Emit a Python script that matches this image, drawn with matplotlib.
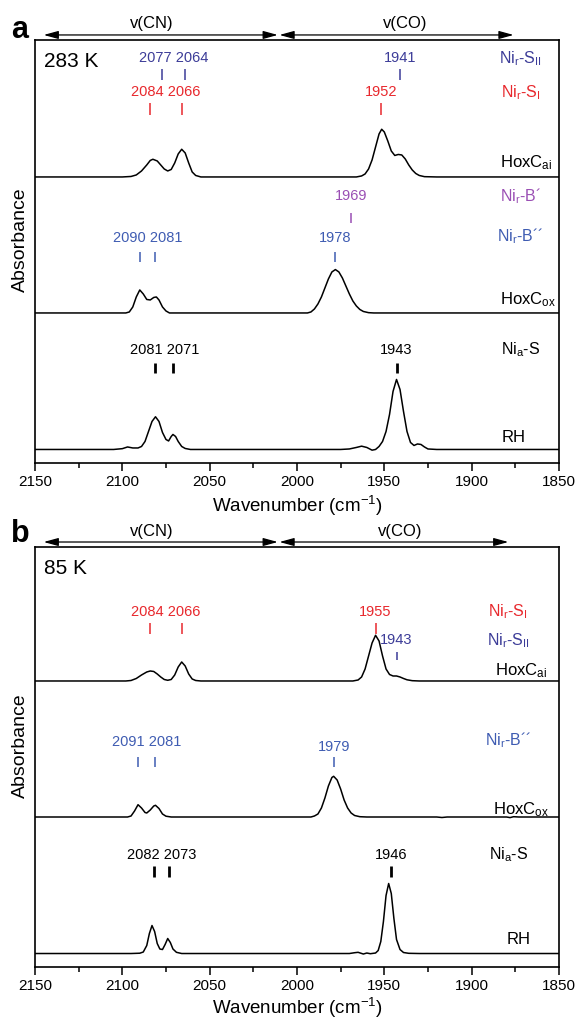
import numpy as np
import matplotlib.pyplot as plt
import matplotlib.transforms as mtransforms

plt.rcParams['font.family'] = ['Liberation Sans', 'DejaVu Sans']
plt.rcParams['mathtext.default'] = 'regular'

# ---- spectra, panel a (283 K): wavenumber / absorbance (arb. units, above each baseline)
a_cai_wn = [2150, 2100, 2095, 2092, 2089, 2086, 2084, 2082.5, 2080, 2078, 2076, 2074, 2072, 2070, 2068,
            2066, 2064, 2062, 2060, 2058, 2055, 1966, 1963, 1961, 1959, 1957, 1955, 1953, 1951.5, 1950,
            1948, 1946, 1944, 1942, 1940, 1938, 1936, 1934, 1932, 1930, 1927, 1920, 1850]
a_cai_abs = [0, 0, 0.05, 0.2, 0.6, 1.2, 1.65, 1.77, 1.6, 1.2, 0.8, 0.6, 0.75, 1.4, 2.3,
             2.77, 2.4, 1.4, 0.5, 0.15, 0, 0, 0.1, 0.3, 0.8, 1.7, 3.0, 4.3, 4.77, 4.5,
             3.6, 2.6, 2.15, 2.25, 2.2, 1.8, 1.2, 0.7, 0.35, 0.15, 0.03, 0, 0]

a_cox_wn = [2150, 2098, 2096, 2094, 2092, 2090, 2088, 2086, 2084, 2082, 2080.5, 2079, 2077, 2075, 2073,
            1994, 1992, 1990, 1988, 1986, 1984, 1982, 1980, 1978, 1976, 1974, 1972, 1970, 1968, 1966,
            1964, 1962, 1959, 1956, 1850]
a_cox_abs = [0, 0, 0.1, 0.6, 1.6, 2.3, 1.9, 1.35, 1.3, 1.55, 1.6, 1.3, 0.6, 0.2, 0,
             0, 0.1, 0.4, 0.9, 1.6, 2.5, 3.4, 4.1, 4.34, 4.1, 3.5, 2.7, 1.9, 1.2, 0.7,
             0.35, 0.15, 0.03, 0, 0]

a_rh_wn = [2150, 2105, 2100, 2097, 2094, 2091, 2089, 2087, 2085, 2083, 2081, 2079, 2077, 2075, 2073.5,
           2072, 2071, 2069.5, 2068, 2066, 2064, 2061, 1975, 1970, 1966, 1963, 1960, 1957, 1955, 1953,
           1951, 1949, 1947, 1945, 1943, 1941, 1939, 1937, 1935, 1933, 1931, 1929, 1927, 1925, 1920, 1850]
a_rh_abs = [0, 0, 0.08, 0.25, 0.15, 0.15, 0.3, 0.8, 1.8, 2.8, 3.27, 2.8, 1.7, 1.0, 0.85,
            1.3, 1.5, 1.3, 0.8, 0.3, 0.1, 0, 0, 0.05, 0.2, 0.33, 0.2, -0.07, 0, 0.3,
            0.8, 1.8, 3.5, 5.8, 7.0, 6.0, 3.8, 1.8, 0.7, 0.4, 0.55, 0.5, 0.25, 0.05, 0, 0]

# ---- spectra, panel b (85 K)
b_cai_wn = [2150, 2098, 2095, 2092, 2089, 2086, 2084, 2082, 2080, 2078, 2076, 2074, 2072, 2070, 2068,
            2066, 2064, 2062, 2060, 2058, 2055, 1968, 1965, 1963, 1961, 1959, 1957, 1955, 1953, 1951,
            1949, 1947, 1945, 1943, 1941, 1939, 1937, 1934, 1930, 1850]
b_cai_abs = [0, 0, 0.05, 0.25, 0.6, 0.9, 1.0, 0.95, 0.7, 0.4, 0.15, 0.07, 0.15, 0.6, 1.4,
             1.9, 1.5, 0.7, 0.2, 0.05, 0, 0, 0.1, 0.4, 1.2, 2.5, 3.8, 4.57, 4.0, 2.5,
             1.2, 0.65, 0.5, 0.5, 0.4, 0.25, 0.12, 0.03, 0, 0]

b_cox_wn = [2150, 2097, 2095, 2093, 2091, 2089, 2087, 2086, 2084, 2082, 2081, 2079, 2077, 2075, 2072,
            1992, 1990, 1988, 1986, 1984, 1982, 1980, 1979, 1977, 1975, 1973, 1971, 1969, 1967, 1964,
            1960, 1920, 1917, 1914, 1880, 1878, 1876, 1873, 1850]
b_cox_abs = [0, 0, 0.1, 0.6, 1.23, 0.9, 0.45, 0.4, 0.7, 1.1, 1.17, 0.85, 0.3, 0.08, 0,
             0, 0.1, 0.3, 0.9, 1.9, 3.1, 3.95, 4.07, 3.7, 2.8, 1.7, 0.9, 0.4, 0.15, 0.03,
             0, 0, -0.05, 0, 0, -0.06, 0.03, 0, 0]

b_rh_wn = [2150, 2095, 2090, 2088, 2086, 2084.5, 2083, 2081.5, 2080, 2078.5, 2077, 2075.5, 2074, 2072.5,
           2071, 2069, 2066, 1970, 1967, 1965, 1962, 1960, 1958, 1955, 1953.5, 1952, 1950.5, 1949,
           1947.5, 1946, 1944.5, 1943, 1941, 1939, 1936, 1930, 1850]
b_rh_abs = [0, 0, 0.03, 0.15, 0.8, 2.0, 2.8, 2.2, 1.0, 0.45, 0.4, 0.9, 1.5, 1.1,
            0.45, 0.12, 0, 0, 0.08, 0.12, -0.05, 0.05, -0.02, 0.05, 0.3, 1.2, 3.2, 5.8,
            7.0, 6.0, 3.5, 1.4, 0.4, 0.1, 0.02, 0, 0]

# ---- band assignments (wavenumbers)
a_si = [2084, 2066, 1952]
a_sii = [2077, 2064, 1941]
a_bp = [1969]
a_bpp = [2090, 2081, 1978]
a_nia = [2081, 2071, 1943]

b_si = [2084, 2066, 1955]
b_sii = [1943]
b_bpp = [2091, 2081, 1979]
b_nia = [2082, 2073, 1946]

RED = '#e8282d'
NAVY = '#3c3c98'
BLUE = '#3f5cb2'
PURPLE = '#9a4fb4'

fig = plt.figure(figsize=(5.82, 10.22), dpi=100)
ax_a = fig.add_axes([0.0601, 0.547, 0.9003, 0.4139])
ax_b = fig.add_axes([0.0601, 0.0538, 0.9003, 0.4110])

offsets = [1.35, 15.0, 28.6]  # RH, HoxCox, HoxCai baselines


def band_labels(ax, peaks, color, ylab, yt0, yt1, lw=1.1, dy_co=0.0):
    # vertical markers
    ax.vlines(peaks, yt1, yt0, colors=color, lw=lw)
    cn = [p for p in peaks if p > 2000]
    co = [p for p in peaks if p < 2000]
    for grp, dy in ((cn, 0.0), (co, dy_co)):
        if grp:
            ax.text(np.mean(grp), ylab + dy, ' '.join(str(p) for p in grp), color=color,
                    fontsize=10.5, ha='center', va='center')


def frame(ax, ymax, letter, letter_y, temp, cn_x, co_x, co_end, xlab_y):
    ax.set_xlim(2150, 1850)
    ax.set_ylim(0, ymax)
    ax.set_yticks([])
    ax.set_xticks(np.arange(2150, 1849, -50))
    ax.set_xticks(np.arange(2125, 1850, -50), minor=True)
    ax.tick_params(axis='x', which='major', direction='out', length=6, width=1.1, labelsize=11, pad=2.5)
    ax.tick_params(axis='x', which='minor', direction='out', length=3.5, width=1.1)
    for s in ax.spines.values():
        s.set_linewidth(1.2)
    ax.set_xlabel('Wavenumber (cm$^{-1}$)', fontsize=13.5)
    ax.xaxis.set_label_coords(0.5, xlab_y)
    ax.set_ylabel('Absorbance', fontsize=14)
    ax.yaxis.set_label_coords(-0.012, 0.528)
    tr = mtransforms.blended_transform_factory(ax.transData, ax.transAxes)
    ya = 1 + 5 / 423
    for x0, x1 in ((2145, 2011), (2010, co_end)):
        ax.annotate('', xy=(x1, ya), xytext=(x0, ya), xycoords=tr, textcoords=tr,
                    annotation_clip=False,
                    arrowprops=dict(arrowstyle='<|-|>,head_length=0.8,head_width=0.22', color='k',
                                    lw=0.9, shrinkA=0, shrinkB=0, mutation_scale=11))
    ax.text(cn_x, 1 + 16 / 423, 'v(CN)', transform=tr, ha='center', va='center', fontsize=12)
    ax.text(co_x, 1 + 16 / 423, 'v(CO)', transform=tr, ha='center', va='center', fontsize=12)
    fig.text(0.019, letter_y, letter, fontsize=22, fontweight='bold', ha='left', va='baseline')
    ax.text(2145, ymax - 2.2, temp, fontsize=15, ha='left', va='center')


# ---------------- panel a
ax = ax_a
for wn, ab, off in ((a_rh_wn, a_rh_abs, offsets[0]), (a_cox_wn, a_cox_abs, offsets[1]),
                    (a_cai_wn, a_cai_abs, offsets[2])):
    ax.plot(wn, np.array(ab) + off, color='k', lw=1.1)
frame(ax, 42.3, 'a', 1 - 38 / 1022, '283 K', 2083, 1938, 1876, -0.074)
band_labels(ax, a_sii, NAVY, 40.5, 39.4, 38.3)
band_labels(ax, a_si, RED, 37.1, 36.0, 34.8)
band_labels(ax, a_bp, PURPLE, 26.7, 25.0, 24.0)
band_labels(ax, a_bpp, BLUE, 22.5, 21.1, 20.1)
band_labels(ax, a_nia, 'k', 11.3, 10.0, 9.0, lw=2)
rx = 1872
ax.text(rx, 40.4, 'Ni$_r$-S$_{II}$', color=NAVY, fontsize=11.5, ha='center', va='center')
ax.text(rx, 37.0, 'Ni$_r$-S$_I$', color=RED, fontsize=11.5, ha='center', va='center')
ax.text(rx, 26.7, 'Ni$_r$-B´', color=PURPLE, fontsize=11.5, ha='center', va='center')
ax.text(rx, 22.7, 'Ni$_r$-B´´', color=BLUE, fontsize=11.5, ha='center', va='center')
ax.text(rx, 11.3, 'Ni$_a$-S', color='k', fontsize=11.5, ha='center', va='center')
ax.text(1869, 30.0, 'HoxC$_{ai}$', fontsize=12, ha='center', va='center')
ax.text(1868, 16.3, 'HoxC$_{ox}$', fontsize=12, ha='center', va='center')
ax.text(1876, 2.5, 'RH', fontsize=12, ha='center', va='center')

# ---------------- panel b
ax = ax_b
for wn, ab, off in ((b_rh_wn, b_rh_abs, offsets[0]), (b_cox_wn, b_cox_abs, offsets[1]),
                    (b_cai_wn, b_cai_abs, offsets[2])):
    ax.plot(wn, np.array(ab) + off, color='k', lw=1.1)
frame(ax, 42.0, 'b', 1 - 542 / 1022, '85 K', 2083, 1941, 1879, -0.069)
band_labels(ax, b_si, RED, 35.5, 34.4, 33.3)
band_labels(ax, b_sii, NAVY, 32.7, 31.5, 30.7)
band_labels(ax, b_bpp, BLUE, 22.5, 21.0, 20.0, dy_co=-0.5)
band_labels(ax, b_nia, 'k', 11.2, 10.1, 9.0, lw=2)
rx = 1879
ax.text(rx, 35.5, 'Ni$_r$-S$_I$', color=RED, fontsize=11.5, ha='center', va='center')
ax.text(rx, 32.6, 'Ni$_r$-S$_{II}$', color=NAVY, fontsize=11.5, ha='center', va='center')
ax.text(rx, 22.7, 'Ni$_r$-B´´', color=BLUE, fontsize=11.5, ha='center', va='center')
ax.text(rx, 11.2, 'Ni$_a$-S', color='k', fontsize=11.5, ha='center', va='center')
ax.text(1872, 29.6, 'HoxC$_{ai}$', fontsize=12, ha='center', va='center')
ax.text(1872, 15.7, 'HoxC$_{ox}$', fontsize=12, ha='center', va='center')
ax.text(1873, 2.8, 'RH', fontsize=12, ha='center', va='center')

fig.savefig('out.png', dpi=100)
